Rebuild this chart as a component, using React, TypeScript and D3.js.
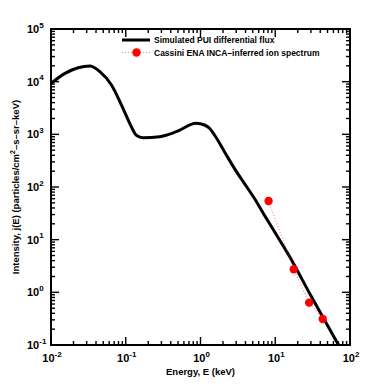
import React, { useEffect, useRef } from "react";
import * as d3 from "d3";

// simulated PUI differential flux (keV, particles/cm2-s-sr-keV)
const fluxEnergy = [0.01, 0.0154, 0.0231, 0.0331, 0.045, 0.0644, 0.0877, 0.113, 0.132, 0.14, 0.17, 0.284, 0.474, 0.877, 1.13, 1.318, 1.54, 2.09, 2.84, 3.86, 5.25, 7.13, 10.7, 15.4, 30, 64.4, 80];
const fluxValue = [9300, 14400, 18400, 19800, 15500, 8650, 3600, 1620, 1047, 950, 863, 902, 1122, 1620, 1504, 1302, 971, 468, 226, 117, 61, 29.4, 11.5, 4.9, 0.86, 0.125, 0.072];

// Cassini ENA INCA-inferred ion spectrum
const incaEnergy = [8.14, 17.7, 28.4, 43.2];
const incaValue = [54.2, 2.74, 0.637, 0.312];

const xDecades = [-2, -1, 0, 1, 2];
const yDecades = [-1, 0, 1, 2, 3, 4, 5];

const legendLabels = ["Simulated PUI differential flux", "Cassini ENA INCA\u2013inferred ion spectrum"];

const W = 388, H = 389;
const FONT = "'Liberation Sans', Arial, Helvetica, sans-serif";

const drawChart = (node: SVGSVGElement) => {
  const svg = d3.select(node);
  svg.selectAll("*").remove();

  const left = 51, right = 350, top = 29, bottom = 345;

  const x = d3.scaleLog().domain([0.01, 100]).range([left, right]);
  const y = d3.scaleLog().domain([0.1, 1e5]).range([bottom, top]);

  svg.append("clipPath").attr("id", "plotClip")
    .append("rect")
    .attr("x", left).attr("y", top)
    .attr("width", right - left).attr("height", bottom - top);

  // ticks on all four sides, pointing inward
  const ticks = svg.append("g").attr("stroke", "#000").attr("stroke-width", 1.4);
  const xTicks: { v: number; major: boolean }[] = [];
  xDecades.forEach((k) => {
    xTicks.push({ v: Math.pow(10, k), major: true });
    if (k < 2) for (let m = 2; m < 10; m++) xTicks.push({ v: m * Math.pow(10, k), major: false });
  });
  xTicks.forEach((t) => {
    const px = x(t.v);
    const len = t.major ? 8 : 4;
    ticks.append("line").attr("x1", px).attr("x2", px).attr("y1", bottom).attr("y2", bottom - len);
    ticks.append("line").attr("x1", px).attr("x2", px).attr("y1", top).attr("y2", top + len);
  });
  const yTicks: { v: number; major: boolean }[] = [];
  yDecades.forEach((k) => {
    yTicks.push({ v: Math.pow(10, k), major: true });
    if (k < 5) for (let m = 2; m < 10; m++) yTicks.push({ v: m * Math.pow(10, k), major: false });
  });
  yTicks.forEach((t) => {
    const py = y(t.v);
    const len = t.major ? 8 : 4;
    ticks.append("line").attr("y1", py).attr("y2", py).attr("x1", left).attr("x2", left + len);
    ticks.append("line").attr("y1", py).attr("y2", py).attr("x1", right).attr("x2", right - len);
  });

  // frame
  svg.append("rect")
    .attr("x", left).attr("y", top)
    .attr("width", right - left).attr("height", bottom - top)
    .attr("fill", "none").attr("stroke", "#000").attr("stroke-width", 2);

  // tick labels
  const labels = svg.append("g").attr("font-family", FONT).attr("font-weight", "bold").attr("fill", "#000");
  xDecades.forEach((k) => {
    const t = labels.append("text")
      .attr("x", x(Math.pow(10, k)) + 1).attr("y", bottom + 17)
      .attr("text-anchor", "middle").attr("font-size", 11);
    t.append("tspan").text("10");
    t.append("tspan").attr("dy", -5.5).attr("font-size", 8).text(k < 0 ? "-" + Math.abs(k) : String(k));
  });
  yDecades.forEach((k) => {
    const t = labels.append("text")
      .attr("x", 27).attr("y", y(Math.pow(10, k)) + 4)
      .attr("font-size", 11);
    t.append("tspan").text("10");
    t.append("tspan").attr("dy", -5.5).attr("font-size", 8).text(k < 0 ? "-" + Math.abs(k) : String(k));
  });

  // axis titles
  labels.append("text")
    .attr("x", (left + right) / 2).attr("y", 375)
    .attr("text-anchor", "middle").attr("font-size", 9.5)
    .text("Energy, E (keV)");
  const yt = labels.append("text")
    .attr("transform", `translate(19, ${(top + bottom) / 2}) rotate(-90)`)
    .attr("text-anchor", "middle").attr("font-size", 9.5);
  yt.append("tspan").text("Intensity, j(E) (particles/cm");
  yt.append("tspan").attr("dy", -4).attr("font-size", 7).text("2");
  yt.append("tspan").attr("dy", 4).text("\u2013s\u2013sr\u2013keV)");

  // simulated flux curve
  const fluxData = fluxEnergy.map((e, i) => ({ e, v: fluxValue[i] }));
  const fluxLine = d3.line<{ e: number; v: number }>()
    .x((d) => x(d.e))
    .y((d) => y(d.v))
    .curve(d3.curveMonotoneX);
  svg.append("path")
    .datum(fluxData)
    .attr("clip-path", "url(#plotClip)")
    .attr("fill", "none")
    .attr("stroke", "#000")
    .attr("stroke-width", 3)
    .attr("stroke-linejoin", "round")
    .attr("d", fluxLine);

  // INCA spectrum
  const incaData = incaEnergy.map((e, i) => ({ e, v: incaValue[i] }));
  const incaLine = d3.line<{ e: number; v: number }>().x((d) => x(d.e)).y((d) => y(d.v));
  svg.append("path")
    .datum(incaData)
    .attr("fill", "none")
    .attr("stroke", "#ff3030")
    .attr("stroke-opacity", 0.6)
    .attr("stroke-width", 1.2)
    .attr("stroke-dasharray", "1,2")
    .attr("d", incaLine);
  svg.append("g").selectAll("circle")
    .data(incaData)
    .join("circle")
    .attr("cx", (d) => x(d.e))
    .attr("cy", (d) => y(d.v))
    .attr("r", 4.2)
    .attr("fill", "#ff0000");

  // legend
  const lg = svg.append("g");
  lg.append("line").attr("x1", 122).attr("x2", 150).attr("y1", 40).attr("y2", 40)
    .attr("stroke", "#000").attr("stroke-width", 3);
  lg.append("line").attr("x1", 122).attr("x2", 151).attr("y1", 52.5).attr("y2", 52.5)
    .attr("stroke", "#ff3030").attr("stroke-opacity", 0.6).attr("stroke-width", 1.2)
    .attr("stroke-dasharray", "1,2");
  lg.append("circle").attr("cx", 136.5).attr("cy", 52.5).attr("r", 4.2).attr("fill", "#ff0000");
  legendLabels.forEach((s, i) => {
    lg.append("text")
      .attr("x", 154).attr("y", 43.3 + i * 12.4)
      .attr("font-family", FONT).attr("font-weight", "bold").attr("font-size", 8.5)
      .text(s);
  });
};

function App() {
  const ref = useRef<SVGSVGElement>(null);
  useEffect(() => {
    if (ref.current) drawChart(ref.current);
  }, []);

  return (
    <svg ref={ref} width={W} height={H}
      style={{ position: "absolute", left: 0, top: 0, background: "#fff" }} />
  );
}
export default App;
